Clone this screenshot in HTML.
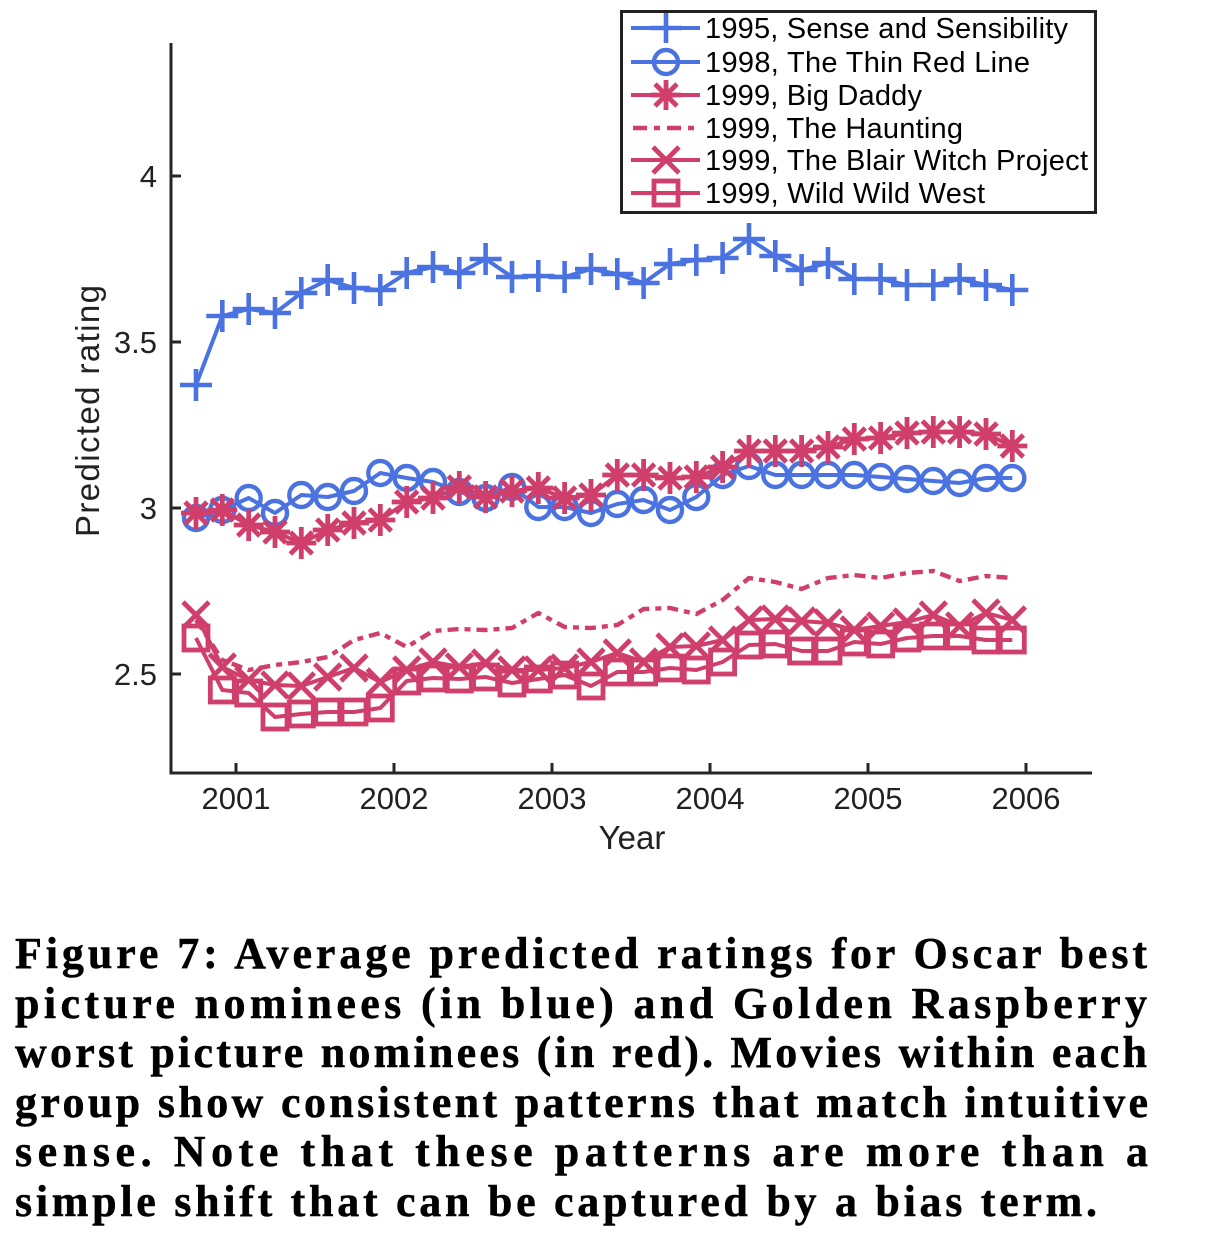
<!DOCTYPE html>
<html><head><meta charset="utf-8"><style>
html,body{margin:0;padding:0;background:#fff;}
svg{display:block;}
text{font-family:"Liberation Sans",sans-serif;}
.cap{font-family:"Liberation Serif",serif;font-weight:bold;font-size:44px;fill:#000;stroke:#000;stroke-width:0.5px;}
</style></head><body>
<svg width="1218" height="1238" viewBox="0 0 1218 1238" xmlns="http://www.w3.org/2000/svg">
<defs>
<marker id="mp" markerUnits="userSpaceOnUse" viewBox="-20 -20 40 40" markerWidth="40" markerHeight="40" refX="0" refY="0" overflow="visible"><path d="M-16,0H16M0,-16V16" stroke="#4a72e0" stroke-width="4.6" fill="none"/></marker>
<marker id="mo" markerUnits="userSpaceOnUse" viewBox="-20 -20 40 40" markerWidth="40" markerHeight="40" refX="0" refY="0" overflow="visible"><circle r="12" stroke="#4a72e0" stroke-width="4.4" fill="none"/></marker>
<marker id="ma" markerUnits="userSpaceOnUse" viewBox="-20 -20 40 40" markerWidth="40" markerHeight="40" refX="0" refY="0" overflow="visible"><path d="M-15,0H15M0,-16V16M-11,-11L11,11M-11,11L11,-11" stroke="#d03f6b" stroke-width="4.8" fill="none"/></marker>
<marker id="mx" markerUnits="userSpaceOnUse" viewBox="-20 -20 40 40" markerWidth="40" markerHeight="40" refX="0" refY="0" overflow="visible"><path d="M-13,-13L13,13M-13,13L13,-13" stroke="#d03f6b" stroke-width="4.8" fill="none"/></marker>
<marker id="ms" markerUnits="userSpaceOnUse" viewBox="-20 -20 40 40" markerWidth="40" markerHeight="40" refX="0" refY="0" overflow="visible"><rect x="-12" y="-12" width="24" height="24" stroke="#d03f6b" stroke-width="4.8" fill="none"/></marker>
</defs>

<!-- axes -->
<path d="M171,43V773H1092" stroke="#262626" stroke-width="3" fill="none"/>
<path d="M171,176H181M171,342H181M171,508H181M171,674H181" stroke="#262626" stroke-width="3"/>
<path d="M236,773V763M394,773V763M552,773V763M710,773V763M868,773V763M1026,773V763" stroke="#262626" stroke-width="3"/>

<g font-size="31" fill="#222" text-anchor="end">
<text x="157" y="187">4</text>
<text x="157" y="353">3.5</text>
<text x="157" y="519">3</text>
<text x="157" y="685">2.5</text>
</g>
<g font-size="31" fill="#222" text-anchor="middle">
<text x="236" y="809">2001</text>
<text x="394" y="809">2002</text>
<text x="552" y="809">2003</text>
<text x="710" y="809">2004</text>
<text x="868" y="809">2005</text>
<text x="1026" y="809">2006</text>
<text x="632" y="849" font-size="33">Year</text>
</g>
<text transform="translate(99,411) rotate(-90)" font-size="33" fill="#222" text-anchor="middle" textLength="252" lengthAdjust="spacing">Predicted rating</text>

<!-- series -->
<polyline fill="none" stroke="#4a72e0" stroke-width="4" stroke-linejoin="round" marker-start="url(#mp)" marker-mid="url(#mp)" marker-end="url(#mp)"
points="196,385 222.3,316 248.7,309 275,313 301.3,293 327.7,280 354,288 380.3,290 406.7,273 433,267 459.3,273 485.6,259 512,277 538.3,276 564.6,277 591,269 617.3,274 643.6,283 670,264 696.3,260 722.6,258 749,239 775.3,256 801.6,270 828,263 854.3,279 880.6,279 907,285 933.3,285 959.6,279 986,285 1012.3,290"/>
<polyline fill="none" stroke="#4a72e0" stroke-width="4" stroke-linejoin="round" marker-start="url(#mo)" marker-mid="url(#mo)" marker-end="url(#mo)"
points="196,518 222.3,510 248.7,498 275,513 301.3,495 327.7,497 354,491 380.3,473 406.7,478 433,482 459.3,492 485.6,498 512,487 538.3,507 564.6,507 591,513 617.3,504 643.6,500 670,510 696.3,497 722.6,475 749,466 775.3,475 801.6,475 828,475 854.3,475 880.6,477 907,479 933.3,481 959.6,483 986,478 1012.3,478"/>
<polyline fill="none" stroke="#d03f6b" stroke-width="4" stroke-linejoin="round" marker-start="url(#ma)" marker-mid="url(#ma)" marker-end="url(#ma)"
points="196,513 222.3,510 248.7,525 275,532 301.3,543 327.7,530 354,523 380.3,520 406.7,502 433,498 459.3,487 485.6,497 512,491 538.3,488 564.6,498 591,495 617.3,475 643.6,475 670,478 696.3,477 722.6,467 749,451 775.3,451 801.6,451 828,447 854.3,439 880.6,438 907,433 933.3,432 959.6,432 986,434 1012.3,446"/>
<polyline fill="none" stroke="#d03f6b" stroke-width="4.4" stroke-linejoin="round" stroke-dasharray="11,6,6,6"
points="196,620 222.3,660 248.7,670 275,665 301.3,662 327.7,657 354,640 380.3,633 406.7,647 433,631 459.3,629 485.6,630 512,628 538.3,613 564.6,627 591,628 617.3,625 643.6,609 670,608 696.3,614 722.6,600 749,578 775.3,582 801.6,589 828,578 854.3,575 880.6,578 907,573 933.3,571 959.6,581 986,576 1012.3,578"/>
<polyline fill="none" stroke="#d03f6b" stroke-width="4" stroke-linejoin="round" marker-start="url(#mx)" marker-mid="url(#mx)" marker-end="url(#mx)"
points="196,615 222.3,667 248.7,680 275,685 301.3,686 327.7,677 354,668 380.3,682 406.7,670 433,662 459.3,667 485.6,663 512,670 538.3,670 564.6,668 591,662 617.3,653 643.6,662 670,647 696.3,646 722.6,640 749,620 775.3,619 801.6,621 828,623 854.3,630 880.6,626 907,622 933.3,615 959.6,626 986,613 1012.3,620"/>
<polyline fill="none" stroke="#d03f6b" stroke-width="4" stroke-linejoin="round" marker-start="url(#ms)" marker-mid="url(#ms)" marker-end="url(#ms)"
points="196,638 222.3,690 248.7,693 275,717 301.3,714 327.7,712 354,712 380.3,708 406.7,681 433,678 459.3,679 485.6,677 512,683 538.3,679 564.6,675 591,686 617.3,672 643.6,672 670,668 696.3,670 722.6,662 749,645 775.3,644 801.6,651 828,651 854.3,642 880.6,644 907,638 933.3,636 959.6,636 986,640 1012.3,640"/>

<!-- legend -->
<rect x="621.5" y="11.5" width="474" height="201" fill="#fff" stroke="#222" stroke-width="3"/>
<path d="M631,28H700" stroke="#4a72e0" stroke-width="4"/>
<path d="M666,13V43M650,28H682" stroke="#4a72e0" stroke-width="4.6"/>
<path d="M631,62H700" stroke="#4a72e0" stroke-width="4"/>
<circle cx="666" cy="62" r="12" stroke="#4a72e0" stroke-width="4.4" fill="none"/>
<path d="M631,95H700" stroke="#d03f6b" stroke-width="4"/>
<path d="M651,95H681M666,80V110M655,84L677,106M655,106L677,84" stroke="#d03f6b" stroke-width="4.8"/>
<path d="M633,128H698" stroke="#d03f6b" stroke-width="4.6" stroke-dasharray="14,7,6,7"/>
<path d="M631,160H700" stroke="#d03f6b" stroke-width="4"/>
<path d="M653,147L679,173M653,173L679,147" stroke="#d03f6b" stroke-width="4.8"/>
<path d="M631,193H700" stroke="#d03f6b" stroke-width="4"/>
<rect x="654" y="181" width="24" height="24" stroke="#d03f6b" stroke-width="4.8" fill="none"/>
<g font-size="29" fill="#000">
<text x="705" y="38" textLength="363" lengthAdjust="spacing">1995, Sense and Sensibility</text>
<text x="705" y="72" textLength="325" lengthAdjust="spacing">1998, The Thin Red Line</text>
<text x="705" y="105" textLength="217" lengthAdjust="spacing">1999, Big Daddy</text>
<text x="705" y="138" textLength="258" lengthAdjust="spacing">1999, The Haunting</text>
<text x="705" y="170" textLength="383" lengthAdjust="spacing">1999, The Blair Witch Project</text>
<text x="705" y="203" textLength="280" lengthAdjust="spacing">1999, Wild Wild West</text>
</g>

<!-- caption -->
<text class="cap" x="15" y="968" textLength="1132" lengthAdjust="spacing">Figure 7:  Average predicted ratings for Oscar best</text>
<text class="cap" x="15" y="1018" textLength="1132" lengthAdjust="spacing">picture nominees (in blue) and Golden Raspberry</text>
<text class="cap" x="15" y="1067" textLength="1132" lengthAdjust="spacing">worst picture nominees (in red).  Movies within each</text>
<text class="cap" x="15" y="1117" textLength="1133" lengthAdjust="spacing">group show consistent patterns that match intuitive</text>
<text class="cap" x="15" y="1166" textLength="1133" lengthAdjust="spacing">sense.  Note that these patterns are more than a</text>
<text class="cap" x="15" y="1216" textLength="1082" lengthAdjust="spacing">simple shift that can be captured by a bias term.</text>
</svg>
</body></html>
